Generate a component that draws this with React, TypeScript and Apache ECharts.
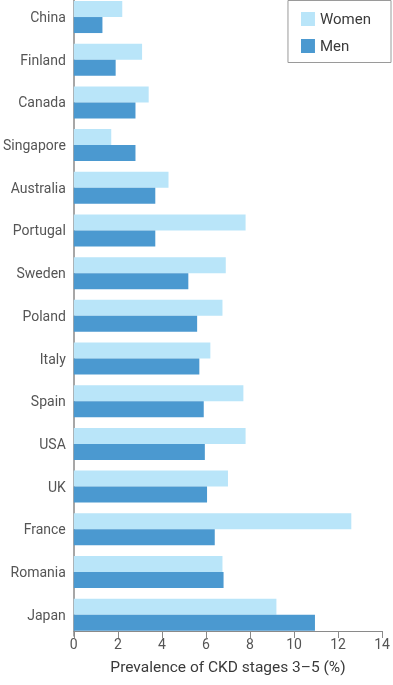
import React, { useEffect, useRef } from "react";
import * as echarts from "echarts";

const countries = ["China", "Finland", "Canada", "Singapore", "Australia", "Portugal", "Sweden", "Poland", "Italy", "Spain", "USA", "UK", "France", "Romania", "Japan"];
const women = [2.2, 3.1, 3.4, 1.7, 4.3, 7.8, 6.9, 6.75, 6.2, 7.7, 7.8, 7.0, 12.6, 6.75, 9.2];
const men = [1.3, 1.9, 2.8, 2.8, 3.7, 3.7, 5.2, 5.6, 5.7, 5.9, 5.95, 6.05, 6.4, 6.8, 10.95];
const xTicks = { min: 0, max: 14, interval: 2 };

const SHIFT = 10;

export default function App() {
  const ref = useRef<HTMLDivElement>(null);
  useEffect(() => {
    const chart = echarts.init(ref.current!, null, { renderer: "svg" });
    const font = "Roboto";
    chart.setOption({
      animation: false,
      textStyle: { fontFamily: font },
      grid: { left: 72.7, right: 7, top: SHIFT - 4.3, bottom: 49, containLabel: false },
      legend: {
        orient: "vertical",
        right: 2,
        top: SHIFT + 0.5,
        icon: "rect",
        itemWidth: 14,
        itemHeight: 14,
        itemGap: 12,
        itemTextGap: 11,
        padding: [11, 20, 9, 13],
        borderColor: "#9a9a9a",
        borderWidth: 1,
        backgroundColor: "#fff",
        textStyle: { fontSize: 15, color: "#3a3a3a", fontFamily: font },
        data: ["Women", "Men"],
      },
      xAxis: {
        type: "value",
        min: xTicks.min,
        max: xTicks.max,
        interval: xTicks.interval,
        offset: -5,
        axisLine: { show: true, lineStyle: { color: "#8a8a8a", width: 1 } },
        axisTick: { show: true, length: 7, lineStyle: { color: "#8a8a8a" } },
        splitLine: { show: false },
        axisLabel: { fontSize: 14, color: "#555", margin: 6, fontFamily: font },
        name: "Prevalence of CKD stages 3–5 (%)",
        nameLocation: "middle",
        nameGap: 28,
        nameTextStyle: { fontSize: 15.5, color: "#3a3a3a", fontFamily: font },
      },
      yAxis: {
        type: "category",
        data: countries,
        inverse: true,
        axisLine: { show: true, lineStyle: { color: "#8a8a8a", width: 1.5 } },
        axisTick: { show: false },
        axisLabel: { fontSize: 14, color: "#555", margin: 8, fontFamily: font },
      },
      series: [
        {
          name: "Women",
          type: "bar",
          data: women,
          barGap: "0%",
          barCategoryGap: "25%",
          itemStyle: { color: "#b9e5f9" },
        },
        {
          name: "Men",
          type: "bar",
          data: men,
          barGap: "0%",
          barCategoryGap: "25%",
          itemStyle: { color: "#4b99d0" },
        },
      ],
    });
    return () => chart.dispose();
  }, []);
  return (
    <div style={{ position: "fixed", left: 0, top: 0, width: 393, height: 685, overflow: "hidden" }}>
      <div ref={ref} style={{ position: "absolute", left: 0, top: -SHIFT, width: 393, height: 685 + SHIFT }} />
    </div>
  );
}
